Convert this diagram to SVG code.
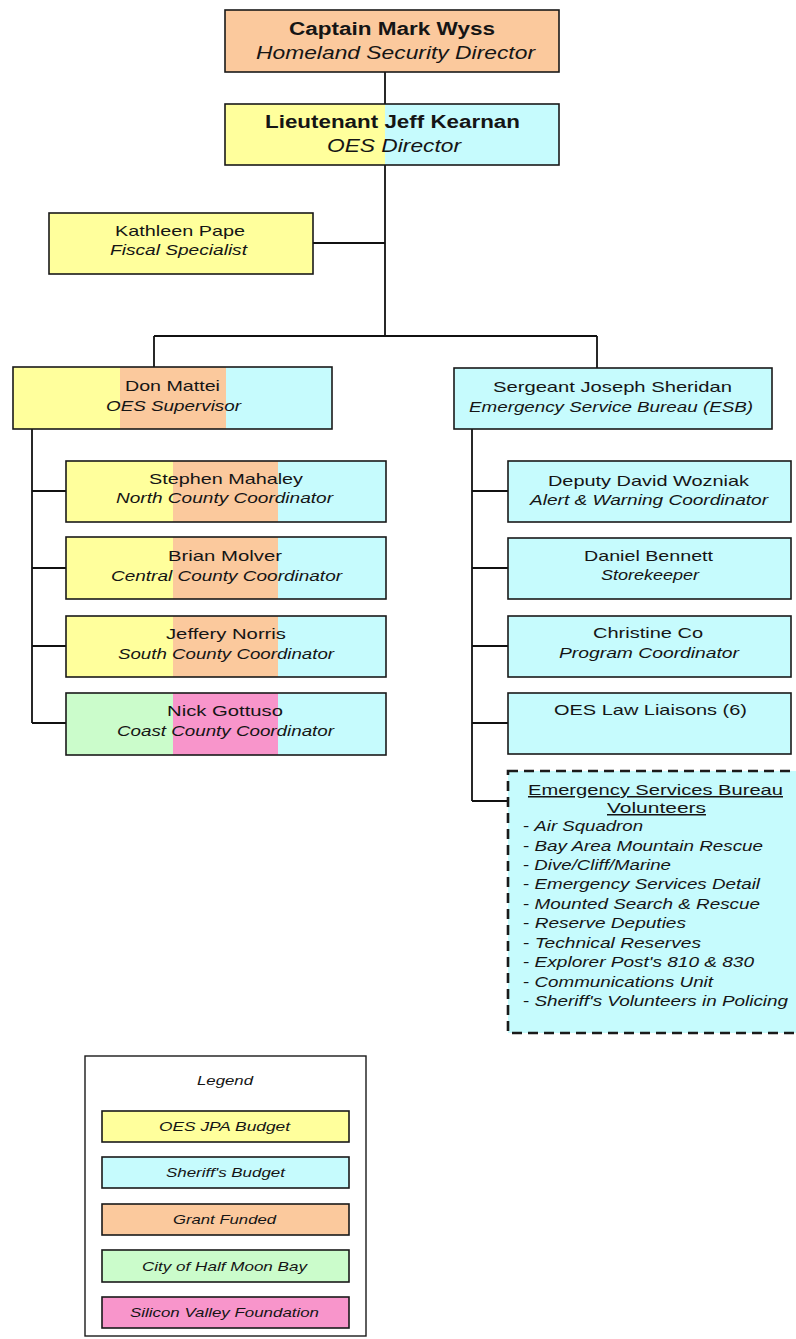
<svg xmlns="http://www.w3.org/2000/svg" width="796" height="1339" viewBox="0 0 796 1339">
<style>
text{font-family:"Liberation Sans",Arial,sans-serif;fill:#151515;font-size:15px}
.b{font-weight:bold;font-size:18px}
.t{font-size:18px;font-style:italic}
.i{font-style:italic}
.lg{font-size:13px;font-style:italic}
.box{stroke:#1a1a1a;stroke-width:1.6;fill:none}
.y{fill:#ffff9c}
.c{fill:#c6fbfd}
.o{fill:#fbc99d}
.g{fill:#cbfccb}
.p{fill:#f895cb}
.con line{stroke:#111;stroke-width:1.8}
</style>
<rect width="796" height="1339" fill="#fff"/>
<g class="con" id="connectors">
<line x1="385" y1="72" x2="385" y2="104"/>
<line x1="385" y1="165" x2="385" y2="336"/>
<line x1="313" y1="243" x2="385" y2="243"/>
<line x1="154" y1="336" x2="597" y2="336"/>
<line x1="154" y1="336" x2="154" y2="367"/>
<line x1="597" y1="336" x2="597" y2="368"/>
<line x1="32" y1="429" x2="32" y2="723"/>
<line x1="32" y1="491" x2="66" y2="491"/>
<line x1="32" y1="568" x2="66" y2="568"/>
<line x1="32" y1="646" x2="66" y2="646"/>
<line x1="32" y1="723" x2="66" y2="723"/>
<line x1="472" y1="429" x2="472" y2="801"/>
<line x1="472" y1="491" x2="508" y2="491"/>
<line x1="472" y1="568" x2="508" y2="568"/>
<line x1="472" y1="646" x2="508" y2="646"/>
<line x1="472" y1="723" x2="508" y2="723"/>
<line x1="472" y1="801" x2="508" y2="801"/>
</g>
<g id="captain">
<rect x="225" y="10" width="334" height="62" class="o"/>
<rect x="225" y="10" width="334" height="62" class="box"/>
<text x="289" y="35" class="b" textLength="206" lengthAdjust="spacingAndGlyphs">Captain Mark Wyss</text>
<text x="256" y="59" class="t" textLength="279" lengthAdjust="spacingAndGlyphs">Homeland Security Director</text>
</g>
<g id="lieutenant">
<rect x="225" y="104" width="160" height="61" class="y"/>
<rect x="385" y="104" width="174" height="61" class="c"/>
<rect x="225" y="104" width="334" height="61" class="box"/>
<text x="265" y="128" class="b" textLength="255" lengthAdjust="spacingAndGlyphs">Lieutenant Jeff Kearnan</text>
<text x="327" y="152" class="t" textLength="134" lengthAdjust="spacingAndGlyphs">OES Director</text>
</g>
<g id="kathleen">
<rect x="49" y="213" width="264" height="61" class="y"/>
<rect x="49" y="213" width="264" height="61" class="box"/>
<text x="115" y="236" textLength="130" lengthAdjust="spacingAndGlyphs">Kathleen Pape</text>
<text x="110" y="255" class="i" textLength="137" lengthAdjust="spacingAndGlyphs">Fiscal Specialist</text>
</g>
<g id="don">
<rect x="13" y="367" width="107" height="62" class="y"/>
<rect x="120" y="367" width="106" height="62" class="o"/>
<rect x="226" y="367" width="106" height="62" class="c"/>
<rect x="13" y="367" width="319" height="62" class="box"/>
<text x="125" y="391" textLength="95" lengthAdjust="spacingAndGlyphs">Don Mattei</text>
<text x="106" y="411" class="i" textLength="135" lengthAdjust="spacingAndGlyphs">OES Supervisor</text>
</g>
<g id="stephen">
<rect x="66" y="461" width="107" height="61" class="y"/>
<rect x="173" y="461" width="105" height="61" class="o"/>
<rect x="278" y="461" width="108" height="61" class="c"/>
<rect x="66" y="461" width="320" height="61" class="box"/>
<text x="149" y="484" textLength="154" lengthAdjust="spacingAndGlyphs">Stephen Mahaley</text>
<text x="116" y="503" class="i" textLength="217" lengthAdjust="spacingAndGlyphs">North County Coordinator</text>
</g>
<g id="brian">
<rect x="66" y="537" width="107" height="62" class="y"/>
<rect x="173" y="537" width="105" height="62" class="o"/>
<rect x="278" y="537" width="108" height="62" class="c"/>
<rect x="66" y="537" width="320" height="62" class="box"/>
<text x="168" y="561" textLength="114" lengthAdjust="spacingAndGlyphs">Brian Molver</text>
<text x="111" y="581" class="i" textLength="231" lengthAdjust="spacingAndGlyphs">Central County Coordinator</text>
</g>
<g id="jeffery">
<rect x="66" y="616" width="107" height="61" class="y"/>
<rect x="173" y="616" width="105" height="61" class="o"/>
<rect x="278" y="616" width="108" height="61" class="c"/>
<rect x="66" y="616" width="320" height="61" class="box"/>
<text x="166" y="639" textLength="120" lengthAdjust="spacingAndGlyphs">Jeffery Norris</text>
<text x="118" y="659" class="i" textLength="216" lengthAdjust="spacingAndGlyphs">South County Coordinator</text>
</g>
<g id="nick">
<rect x="66" y="693" width="107" height="62" class="g"/>
<rect x="173" y="693" width="105" height="62" class="p"/>
<rect x="278" y="693" width="108" height="62" class="c"/>
<rect x="66" y="693" width="320" height="62" class="box"/>
<text x="167" y="716" textLength="116" lengthAdjust="spacingAndGlyphs">Nick Gottuso</text>
<text x="117" y="736" class="i" textLength="217" lengthAdjust="spacingAndGlyphs">Coast County Coordinator</text>
</g>
<g id="sergeant">
<rect x="454" y="368" width="318" height="61" class="c"/>
<rect x="454" y="368" width="318" height="61" class="box"/>
<text x="493" y="392" textLength="239" lengthAdjust="spacingAndGlyphs">Sergeant Joseph Sheridan</text>
<text x="469" y="412" class="i" textLength="284" lengthAdjust="spacingAndGlyphs">Emergency Service Bureau (ESB)</text>
</g>
<g id="deputy">
<rect x="508" y="461" width="283" height="61" class="c"/>
<rect x="508" y="461" width="283" height="61" class="box"/>
<text x="548" y="486" textLength="201" lengthAdjust="spacingAndGlyphs">Deputy David Wozniak</text>
<text x="530" y="505" class="i" textLength="238" lengthAdjust="spacingAndGlyphs">Alert &amp; Warning Coordinator</text>
</g>
<g id="daniel">
<rect x="508" y="538" width="283" height="61" class="c"/>
<rect x="508" y="538" width="283" height="61" class="box"/>
<text x="584" y="561" textLength="129" lengthAdjust="spacingAndGlyphs">Daniel Bennett</text>
<text x="601" y="580" class="i" textLength="98" lengthAdjust="spacingAndGlyphs">Storekeeper</text>
</g>
<g id="christine">
<rect x="508" y="616" width="283" height="61" class="c"/>
<rect x="508" y="616" width="283" height="61" class="box"/>
<text x="593" y="638" textLength="110" lengthAdjust="spacingAndGlyphs">Christine Co</text>
<text x="559" y="658" class="i" textLength="180" lengthAdjust="spacingAndGlyphs">Program Coordinator</text>
</g>
<g id="liaisons">
<rect x="508" y="693" width="283" height="61" class="c"/>
<rect x="508" y="693" width="283" height="61" class="box"/>
<text x="554" y="715" textLength="193" lengthAdjust="spacingAndGlyphs">OES Law Liaisons (6)</text>
</g>
<g id="volunteers">
<rect x="508" y="771" width="300" height="262" class="c"/>
<rect x="508" y="771" width="300" height="262" fill="none" stroke="#1a1a1a" stroke-width="2.6" stroke-dasharray="10,6"/>
<text x="528" y="795" text-decoration="underline" textLength="255" lengthAdjust="spacingAndGlyphs">Emergency Services Bureau</text>
<text x="607" y="813" text-decoration="underline" textLength="99" lengthAdjust="spacingAndGlyphs">Volunteers</text>
<text x="523" y="831" textLength="120" lengthAdjust="spacingAndGlyphs">- <tspan class="i">Air Squadron</tspan></text>
<text x="523" y="851" textLength="240" lengthAdjust="spacingAndGlyphs">- <tspan class="i">Bay Area Mountain Rescue</tspan></text>
<text x="523" y="870" textLength="148" lengthAdjust="spacingAndGlyphs">- <tspan class="i">Dive/Cliff/Marine</tspan></text>
<text x="523" y="889" textLength="237" lengthAdjust="spacingAndGlyphs">- <tspan class="i">Emergency Services Detail</tspan></text>
<text x="523" y="909" textLength="237" lengthAdjust="spacingAndGlyphs">- <tspan class="i">Mounted Search &amp; Rescue</tspan></text>
<text x="523" y="928" textLength="163" lengthAdjust="spacingAndGlyphs">- <tspan class="i">Reserve Deputies</tspan></text>
<text x="523" y="948" textLength="178" lengthAdjust="spacingAndGlyphs">- <tspan class="i">Technical Reserves</tspan></text>
<text x="523" y="967" textLength="231" lengthAdjust="spacingAndGlyphs">- <tspan class="i">Explorer Post's 810 &amp; 830</tspan></text>
<text x="523" y="987" textLength="190" lengthAdjust="spacingAndGlyphs">- <tspan class="i">Communications Unit</tspan></text>
<text x="523" y="1006" textLength="265" lengthAdjust="spacingAndGlyphs">- <tspan class="i">Sheriff's Volunteers in Policing</tspan></text>
</g>
<g id="legend">
<rect x="85" y="1056" width="281" height="280" fill="#fff" stroke="#1a1a1a" stroke-width="1.4"/>
<text x="197" y="1085" class="lg" textLength="56" lengthAdjust="spacingAndGlyphs">Legend</text>
<rect x="102" y="1111" width="247" height="31" class="y"/>
<rect x="102" y="1111" width="247" height="31" class="box"/>
<text x="159" y="1131" class="lg" textLength="131" lengthAdjust="spacingAndGlyphs">OES JPA Budget</text>
<rect x="102" y="1157" width="247" height="31" class="c"/>
<rect x="102" y="1157" width="247" height="31" class="box"/>
<text x="166" y="1177" class="lg" textLength="119" lengthAdjust="spacingAndGlyphs">Sheriff's Budget</text>
<rect x="102" y="1204" width="247" height="31" class="o"/>
<rect x="102" y="1204" width="247" height="31" class="box"/>
<text x="173" y="1224" class="lg" textLength="103" lengthAdjust="spacingAndGlyphs">Grant Funded</text>
<rect x="102" y="1250" width="247" height="32" class="g"/>
<rect x="102" y="1250" width="247" height="32" class="box"/>
<text x="142" y="1271" class="lg" textLength="165" lengthAdjust="spacingAndGlyphs">City of Half Moon Bay</text>
<rect x="102" y="1297" width="247" height="31" class="p"/>
<rect x="102" y="1297" width="247" height="31" class="box"/>
<text x="130" y="1317" class="lg" textLength="189" lengthAdjust="spacingAndGlyphs">Silicon Valley Foundation</text>
</g>
</svg>
